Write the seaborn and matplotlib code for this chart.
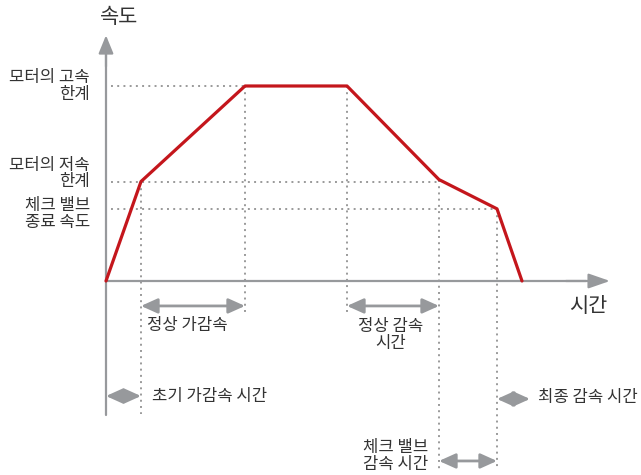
import numpy as np
import pandas as pd
import matplotlib
matplotlib.use("Agg")
import matplotlib.pyplot as plt
import seaborn as sns

# 속도 프로파일 (시간, 속도 %)
profile_time = [0, 3.5, 13.9, 24.1, 33.3, 39.1, 41.6]
profile_speed = [0, 51, 100, 100, 52, 37, 0]

# 속도 기준선
level_speed = [100, 51, 37]
level_end = [24.1, 33.3, 39.1]
level_labels = ["모터의 고속\n한계", "모터의 저속\n한계", "체크 밸브\n종료 속도"]

# 수직 보조선
guide_time = [3.5, 13.9, 24.1, 33.3, 39.1]
guide_start = [51, 100, 100, 52, 37]
guide_bottom = [-68, -17, -17, -97, -97]

# 구간 화살표
span_start = [3.5, 24.1, 0, 39.1, 33.3]
span_end = [13.9, 33.3, 3.5, 42.4, 39.1]
span_labels = ["정상 가감속", "정상 감속\n시간", "초기 가감속 시간", "최종 감속 시간", "체크 밸브\n감속 시간"]

sns.set_style("white")
plt.rcParams['font.family'] = ['Noto Sans CJK KR', 'DejaVu Sans']

RED = "#c4161c"
GRAY = "#97999c"
DOT = "#9a9a9a"
TXT = "#333333"

fig = plt.figure(figsize=(6.41, 4.75), dpi=100)
ax = fig.add_axes([0, 0, 1, 1])
ax.set_xlim(-10.6, 53.5)
ax.set_ylim(-99.5, 144.1)
ax.axis("off")

# 점선 보조선
for s, e in zip(level_speed, level_end):
    ax.plot([0.5, e], [s, s], color=DOT, lw=1.4, ls=(0, (1, 2.2)), zorder=1)
for t, s, b in zip(guide_time, guide_start, guide_bottom):
    ax.plot([t, t], [s, b], color=DOT, lw=1.4, ls=(0, (1, 2.2)), zorder=1)

# 축
ax.plot([0, 0], [-68.7, 120], color=GRAY, lw=1.6, zorder=2)
ax.annotate("", xy=(0, 126), xytext=(0, 110),
            arrowprops=dict(arrowstyle="-|>,head_length=1.1,head_width=0.45",
                            color=GRAY, lw=1.6, mutation_scale=10, shrinkA=0, shrinkB=0))
ax.plot([0, 48], [0, 0], color=GRAY, lw=1.6, zorder=2)
ax.annotate("", xy=(50.4, 0), xytext=(46, 0),
            arrowprops=dict(arrowstyle="-|>,head_length=1.3,head_width=0.45",
                            color=GRAY, lw=1.6, mutation_scale=10, shrinkA=0, shrinkB=0))

# 속도 프로파일
df = pd.DataFrame({"time": profile_time, "speed": profile_speed})
sns.lineplot(data=df, x="time", y="speed", color=RED, lw=2.3, sort=False, ax=ax, zorder=3)
ax.axis("off")

# 축 제목
ax.text(1.3, 135.4, "속도", fontsize=15, color=TXT, ha="center", va="center")
ax.text(48.2, -12.8, "시간", fontsize=15, color=TXT, ha="center", va="center")

# 속도 레이블
label_y = [100, 55, 34.4]
for y, lab in zip(label_y, level_labels):
    ax.text(-1.6, y, lab, fontsize=12, color=TXT, ha="right", va="center", linespacing=0.95)

# 구간 화살표
span_y = [-12.8, -12.8, -59, -60.5, -92.3]
for a, b, y in zip(span_start, span_end, span_y):
    ax.annotate("", xy=(b, y), xytext=(a, y),
                arrowprops=dict(arrowstyle="<|-|>,head_length=1.0,head_width=0.45",
                                color=GRAY, lw=2, mutation_scale=10, shrinkA=0, shrinkB=0))

label_pos = [(4.1, -22.6, "left"), (28.5, -27.7, "center"), (4.6, -59.2, "left"),
             (43.2, -60, "left"), (32.2, -89.7, "right")]
for (x, y, ha), lab in zip(label_pos, span_labels):
    ax.text(x, y, lab, fontsize=12, color=TXT, ha=ha, va="center", linespacing=0.95,
            multialignment="center")

plt.savefig("out.png", dpi=100)
